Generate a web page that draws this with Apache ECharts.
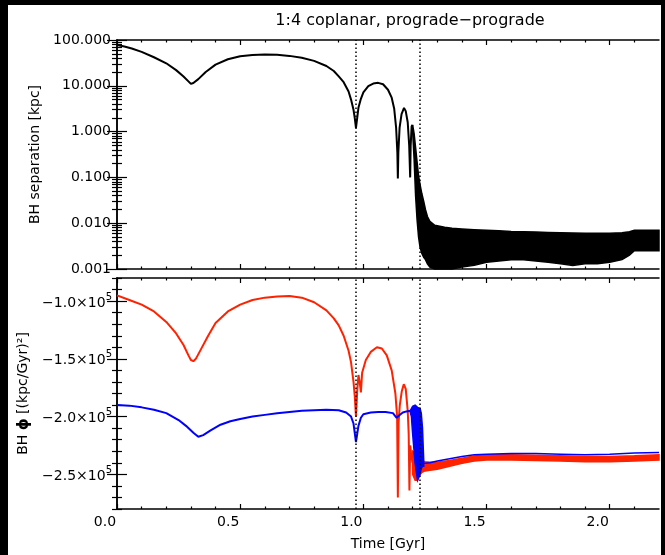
<!DOCTYPE html>
<html><head><meta charset="utf-8">
<script src="https://cdn.jsdelivr.net/npm/echarts@6/dist/echarts.min.js"></script>
<style>
html,body{margin:0;padding:0;background:#000;width:665px;height:555px;overflow:hidden;}
#bg{position:absolute;left:8px;top:5px;width:653px;height:550px;background:#fff;}
#c{position:absolute;left:0;top:0;width:665px;height:555px;}
</style>
</head><body><div id="bg"></div><div id="c"></div>
<script>
// ---------- data ----------
// Top panel: BH separation [kpc] (smooth orbit part)
const sepT = [0.00,0.03,0.06,0.10,0.15,0.20,0.24,0.27,0.29,0.30,0.31,0.33,0.36,0.40,0.45,0.50,0.55,0.60,0.65,0.70,0.75,0.80,0.85,0.88,0.90,0.92,0.94,0.95,0.96,0.965,0.97,0.975,0.98,0.99,1.00,1.02,1.04,1.06,1.08,1.10,1.115,1.125,1.133,1.138,1.14,1.142,1.147,1.155,1.165,1.172,1.18,1.186,1.19,1.192,1.196,1.20];
const sepV = [78,72,65,55,42,31,22,16,12.5,11,11.5,14,20,29,38,44,47,48,47.5,45,41,35,27,21,16,12,7.5,5,3,2,1.2,2,3.3,5.2,7.2,9.8,11.2,11.6,10.8,8.2,5.5,3.2,1.2,0.35,0.095,0.35,1.2,2.4,3.3,2.8,1.6,0.5,0.1,0.5,1.3,1.4];
// Top panel: noisy band after coalescence (upper / lower envelope)
const sepBandT  = [1.200,1.206,1.212,1.218,1.224,1.230,1.237,1.245,1.252,1.260,1.270,1.290,1.330,1.360,1.400,1.450,1.500,1.550,1.600,1.650,1.700,1.750,1.800,1.850,1.900,1.950,2.000,2.050,2.080,2.100,2.150,2.200];
const sepBandHi = [1.4,0.9,0.45,0.22,0.11,0.07,0.045,0.03,0.02,0.014,0.011,0.009,0.0082,0.0078,0.0075,0.0072,0.007,0.0068,0.0066,0.0065,0.0064,0.0063,0.0062,0.0061,0.006,0.006,0.006,0.0062,0.0065,0.007,0.007,0.007];
const sepBandLo = [1.0,0.25,0.04,0.012,0.005,0.003,0.0022,0.0018,0.0016,0.0013,0.0011,0.001,0.001,0.001,0.0011,0.0012,0.0014,0.0015,0.0016,0.0016,0.0015,0.0014,0.0013,0.0012,0.0013,0.0013,0.0014,0.0016,0.002,0.0025,0.0025,0.0025];

// Bottom panel: BH potential, red BH
const redT = [0.00,0.05,0.10,0.15,0.20,0.24,0.27,0.29,0.30,0.31,0.32,0.34,0.37,0.40,0.45,0.50,0.55,0.60,0.65,0.70,0.75,0.80,0.85,0.88,0.90,0.92,0.94,0.95,0.96,0.965,0.97,0.975,0.98,0.985,0.99,0.995,1.01,1.03,1.055,1.075,1.095,1.115,1.13,1.137,1.14,1.143,1.148,1.156,1.164,1.172,1.18,1.184,1.187,1.19,1.195,1.20];
const redV = [-95000,-99000,-103000,-109000,-118000,-128000,-138000,-147000,-151000,-152000,-150000,-142000,-130000,-119000,-109000,-103000,-99000,-97000,-96000,-95500,-97000,-101000,-108000,-115000,-121000,-130000,-143000,-153000,-170000,-182000,-200000,-178000,-164000,-170000,-179000,-162000,-151000,-144000,-140000,-141000,-147000,-160000,-180000,-200000,-270000,-205000,-190000,-178000,-172000,-176000,-195000,-215000,-264000,-225000,-235000,-240000];
const redBandT  = [1.20,1.21,1.22,1.23,1.24,1.25,1.27,1.30,1.35,1.40,1.45,1.50,1.60,1.70,1.80,1.90,2.00,2.10,2.20];
const redBandHi = [-230000,-232000,-236000,-238000,-238500,-239000,-239500,-239500,-238000,-236000,-234000,-233000,-233000,-233500,-234000,-234500,-234500,-234000,-233000];
const redBandLo = [-250000,-255000,-255000,-250000,-248000,-247000,-246500,-245500,-243000,-240500,-238500,-237500,-237500,-238000,-238500,-239000,-239000,-238500,-237500];

// Bottom panel: blue BH
const blueT = [0.00,0.05,0.10,0.15,0.20,0.25,0.28,0.31,0.33,0.35,0.38,0.42,0.46,0.50,0.55,0.60,0.65,0.70,0.75,0.80,0.85,0.90,0.93,0.95,0.96,0.97,0.98,0.99,1.00,1.03,1.06,1.09,1.12,1.135,1.145,1.16,1.175,1.19];
const blueV = [-190000,-190500,-192000,-194000,-197000,-203000,-208000,-214000,-217500,-216000,-212000,-207000,-204000,-202000,-200000,-198500,-197000,-196000,-195000,-194500,-194000,-194500,-196500,-200000,-206000,-222000,-208000,-201000,-198000,-196500,-196000,-196000,-197000,-201000,-199000,-196500,-195500,-195000];
const blueBandT  = [1.19,1.195,1.20,1.21,1.22,1.23,1.235,1.24,1.245];
const blueBandHi = [-195000,-193000,-191000,-190000,-192000,-193000,-197000,-210000,-238000];
const blueBandLo = [-196000,-200000,-215000,-240000,-255000,-250000,-245000,-243000,-243000];
const blueT2 = [1.245,1.27,1.30,1.35,1.40,1.45,1.50,1.60,1.70,1.80,1.90,2.00,2.10,2.20];
const blueV2 = [-240500,-240000,-238500,-236500,-234500,-233000,-232500,-232000,-232000,-232500,-233000,-232500,-231500,-231000];

// Event markers (dotted lines) [Gyr]
const eventT = [0.97, 1.229];

// Tick values
const xMajor = [0, 0.5, 1.0, 1.5, 2.0];
const xMinor = [0.1,0.2,0.3,0.4,0.6,0.7,0.8,0.9,1.1,1.2,1.3,1.4,1.6,1.7,1.8,1.9,2.1];
const sepMajor = [0.001, 0.01, 0.1, 1, 10, 100];
const sepMinor = [];
[0.001,0.01,0.1,1,10].forEach(d => { for (let k = 2; k <= 9; k++) sepMinor.push(+(d*k).toPrecision(3)); });
const phiMajor = [-250000, -200000, -150000, -100000];
const phiMinor = [];
for (let v = -280000; v <= -80000; v += 10000) if (phiMajor.indexOf(v) < 0) phiMinor.push(v);

// ---------- chart ----------
const FONT = 'DejaVu Sans';
const RED = '#ff2200', BLUE = '#0000ff';
const pairs = (T, V) => T.map((t, i) => [t, V[i]]);

function band(T, H, L, color, xi, yi) {
  return {
    type: 'custom', xAxisIndex: xi, yAxisIndex: yi, silent: true, z: 3,
    data: [[T[0], H[0]]],
    renderItem: function (params, api) {
      const pts = [];
      for (let i = 0; i < T.length; i++) pts.push(api.coord([T[i], H[i]]));
      for (let i = T.length - 1; i >= 0; i--) pts.push(api.coord([T[i], L[i]]));
      return { type: 'polygon', shape: { points: pts }, style: { fill: color, stroke: color, lineWidth: 1.5 } };
    }
  };
}

const axisLineStyle = { show: true, lineStyle: { color: '#000', width: 1.5 } };
function xAx(grid, pos, ticks, len, line, labels) {
  return {
    type: 'value', gridIndex: grid, position: pos, min: 0, max: 2.2,
    axisLine: line ? axisLineStyle : { show: false },
    axisTick: { show: true, inside: true, length: len, customValues: ticks, lineStyle: { color: '#000', width: 1.2 } },
    axisLabel: labels ? {
      show: true, customValues: xMajor, color: '#000', fontFamily: FONT, fontSize: 14, margin: 6,
      padding: [0, 24, 0, 0], formatter: v => v.toFixed(1)
    } : { show: false },
    splitLine: { show: false }
  };
}
function yAx(grid, pos, type, min, max, ticks, len, line, labels) {
  const a = {
    type: type, gridIndex: grid, position: pos, min: min, max: max,
    axisLine: line ? axisLineStyle : { show: false },
    axisTick: { show: true, inside: true, length: len, customValues: ticks, lineStyle: { color: '#000', width: 1.2 } },
    axisLabel: labels || { show: false },
    splitLine: { show: false }
  };
  if (type === 'log') a.logBase = 10;
  return a;
}

const sepLabels = { show: true, customValues: sepMajor, color: '#000', fontFamily: FONT, fontSize: 14, margin: 6,
  formatter: v => Number(v).toFixed(3) };
const phiLabels = { show: true, customValues: phiMajor, color: '#000', fontFamily: FONT, fontSize: 14, margin: 5,
  formatter: v => '{a|\u2212' + (Math.abs(v) / 1e5).toFixed(1) + '\u00d710}{s|5}',
  rich: {
    a: { fontFamily: FONT, fontSize: 14, color: '#000', lineHeight: 18, verticalAlign: 'bottom' },
    s: { fontFamily: FONT, fontSize: 10, color: '#000', lineHeight: 11, verticalAlign: 'top' }
  } };

const yAxes = [
  yAx(0, 'left', 'log', 0.001, 100, sepMajor, 10, true, sepLabels),
  yAx(0, 'left', 'log', 0.001, 100, sepMinor, 5, false),
  yAx(0, 'right', 'log', 0.001, 100, sepMajor, 10, true),
  yAx(0, 'right', 'log', 0.001, 100, sepMinor, 5, false),
  yAx(1, 'left', 'value', -280000, -80000, phiMajor, 10, true, phiLabels),
  yAx(1, 'left', 'value', -280000, -80000, phiMinor, 5, false),
  yAx(1, 'right', 'value', -280000, -80000, phiMajor, 10, true),
  yAx(1, 'right', 'value', -280000, -80000, phiMinor, 5, false)
];
Object.assign(yAxes[0], { name: 'BH separation [kpc]', nameLocation: 'middle', nameGap: 74, nameRotate: 90,
  nameTextStyle: { color: '#000', fontFamily: FONT, fontSize: 14 } });
Object.assign(yAxes[4], { name: 'BH {p|\u03d5} [(kpc/Gyr)\u00b2]', nameLocation: 'middle', nameGap: 78, nameRotate: 90,
  nameTextStyle: { color: '#000', fontFamily: FONT, fontSize: 14, rich: { p: { fontFamily: FONT, fontSize: 15, fontWeight: 'bold', color: '#000' } } } });

const xAxes = [
  xAx(0, 'bottom', xMajor, 5, true, false),
  xAx(0, 'bottom', xMinor, 2.5, false, false),
  xAx(0, 'top', xMajor, 5, true, false),
  xAx(0, 'top', xMinor, 2.5, false, false),
  xAx(1, 'bottom', xMajor, 5, true, true),
  xAx(1, 'bottom', xMinor, 2.5, false, false),
  xAx(1, 'top', xMajor, 5, true, false),
  xAx(1, 'top', xMinor, 2.5, false, false)
];
Object.assign(xAxes[4], { name: 'Time [Gyr]', nameLocation: 'middle', nameGap: 28,
  nameTextStyle: { color: '#000', fontFamily: FONT, fontSize: 14 } });

const markLines = {
  silent: true, symbol: ['none', 'none'], label: { show: false },
  lineStyle: { color: '#000', type: [1.5, 2.5], width: 1.5 },
  data: eventT.map(t => ({ xAxis: t }))
};

const option = {
  animation: false,
  backgroundColor: 'transparent',
  textStyle: { fontFamily: FONT },
  title: { text: '1:4 coplanar, prograde\u2212prograde', left: 405, top: 8, textAlign: 'center',
    textStyle: { color: '#000', fontFamily: FONT, fontSize: 16, fontWeight: 'normal' } },
  grid: [
    { left: 117, top: 40, width: 542, height: 229 },
    { left: 117, top: 278, width: 542, height: 231 }
  ],
  xAxis: xAxes,
  yAxis: yAxes,
  series: [
    { type: 'line', xAxisIndex: 0, yAxisIndex: 0, data: pairs(sepT, sepV), showSymbol: false,
      lineStyle: { color: '#000', width: 2 }, markLine: markLines, z: 3 },
    band(sepBandT, sepBandHi, sepBandLo, '#000', 0, 0),
    { type: 'line', xAxisIndex: 4, yAxisIndex: 4, data: pairs(redT, redV), showSymbol: false,
      lineStyle: { color: RED, width: 2 }, markLine: markLines, z: 3 },
    band(redBandT, redBandHi, redBandLo, RED, 4, 4),
    { type: 'line', xAxisIndex: 4, yAxisIndex: 4, data: pairs(blueT, blueV), showSymbol: false,
      lineStyle: { color: BLUE, width: 2 }, z: 4 },
    band(blueBandT, blueBandHi, blueBandLo, BLUE, 4, 4),
    { type: 'line', xAxisIndex: 4, yAxisIndex: 4, data: pairs(blueT2, blueV2), showSymbol: false,
      lineStyle: { color: BLUE, width: 1.5 }, z: 4 }
  ]
};
const chart = echarts.init(document.getElementById('c'), null, { renderer: 'canvas' });
chart.setOption(option);
</script>
</body></html>
